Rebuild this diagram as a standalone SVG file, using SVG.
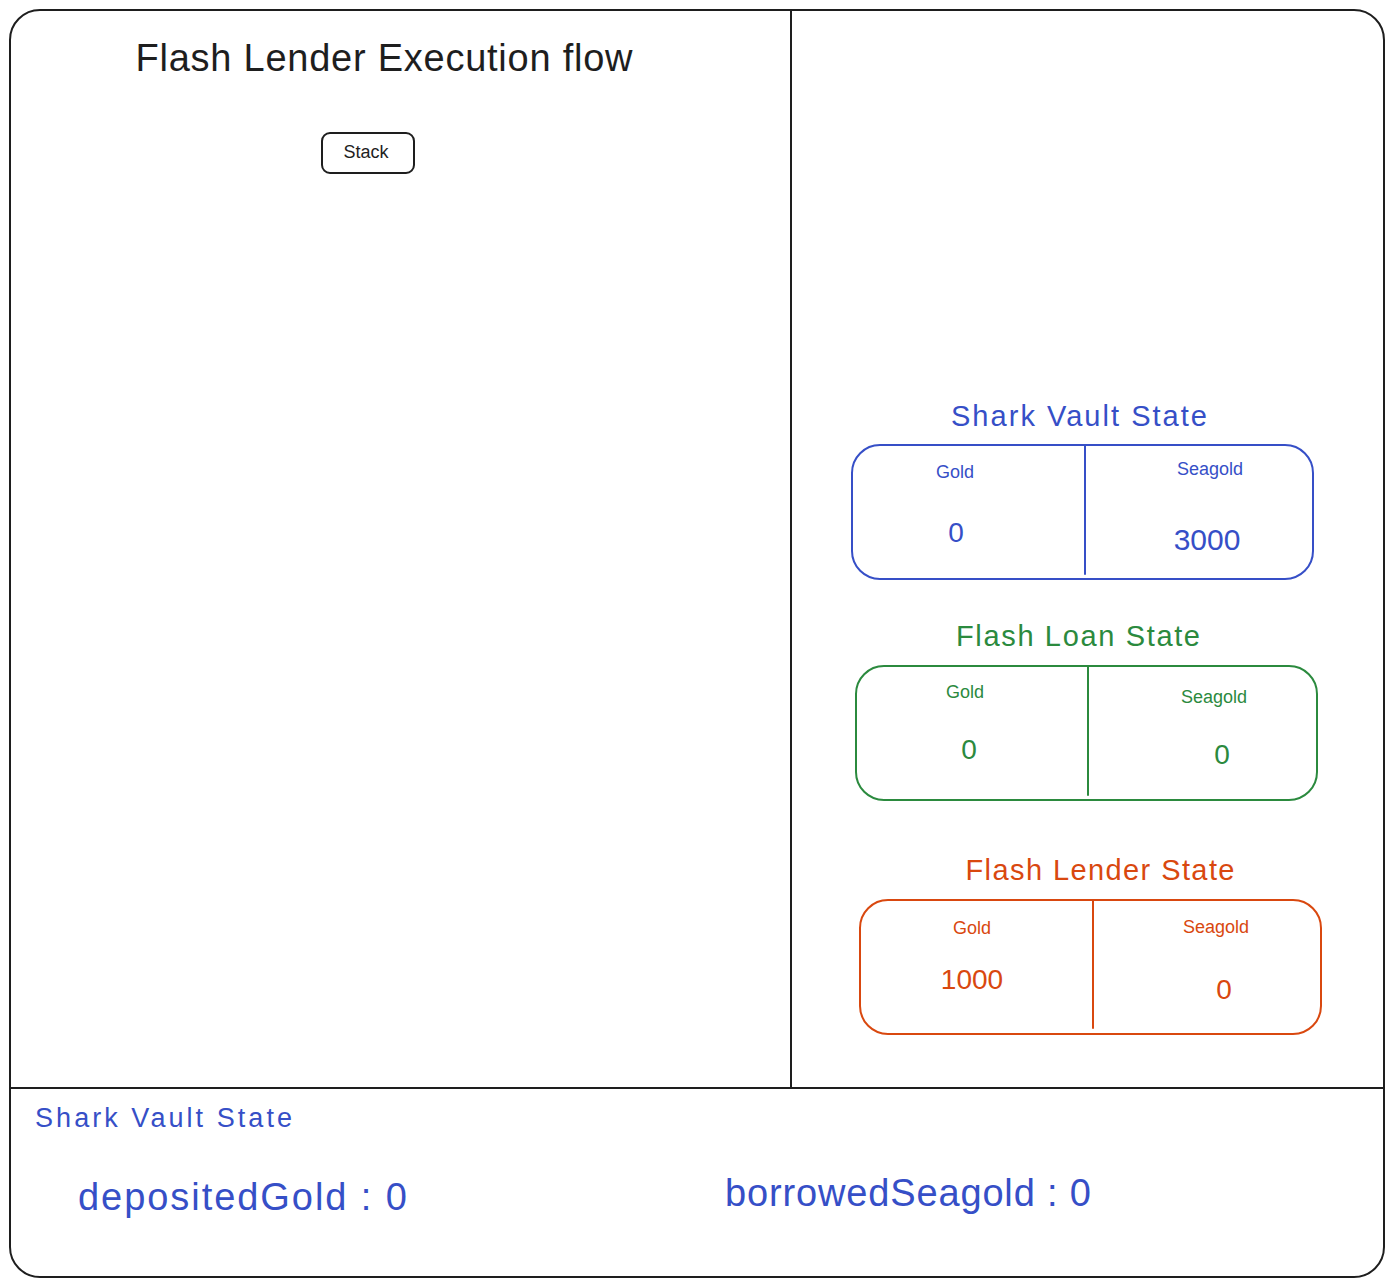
<svg xmlns="http://www.w3.org/2000/svg" width="1394" height="1287" viewBox="0 0 1394 1287">
<style>
text{font-family:"Liberation Sans",Arial,sans-serif;dominant-baseline:central;text-anchor:middle}
.k{fill:#1e1e1e}.b{fill:#364fc7}.g{fill:#2b8a3e}.o{fill:#d9480f}
.ln{fill:none;stroke-width:2;stroke-linecap:round}
.sk{stroke:#1e1e1e}.sb{stroke:#364fc7}.sg{stroke:#2b8a3e}.so{stroke:#d9480f}
</style>
<rect width="1394" height="1287" fill="#fff"/>
<g id="frame">
<rect class="ln sk" x="10" y="10" width="1374" height="1267" rx="30"/>
</g>
<g id="connectors">
<line class="ln sk" x1="791" y1="10" x2="791" y2="1088"/>
<line class="ln sk" x1="10" y1="1088" x2="1384" y2="1088"/>
</g>
<g id="title"><text class="k" x="384" y="58" font-size="38" textLength="497" lengthAdjust="spacing">Flash Lender Execution flow</text></g>
<g id="stack">
<rect class="ln sk" x="322" y="133" width="92" height="40" rx="8"/>
<text class="k" x="366" y="152" font-size="18">Stack</text>
</g>
<g id="shark-vault">
<text class="b" x="1079" y="416" font-size="29" textLength="256" lengthAdjust="spacing">Shark Vault State</text>
<rect class="ln sb" x="852" y="445" width="461" height="134" rx="28"/>
<line class="ln sb" x1="1085" y1="446" x2="1085" y2="574"/>
<text class="b" x="955" y="472" font-size="18">Gold</text>
<text class="b" x="956" y="532" font-size="28">0</text>
<text class="b" x="1210" y="469" font-size="18">Seagold</text>
<text class="b" x="1207" y="539" font-size="30">3000</text>
</g>
<g id="flash-loan">
<text class="g" x="1078" y="636" font-size="29" textLength="244" lengthAdjust="spacing">Flash Loan State</text>
<rect class="ln sg" x="856" y="666" width="461" height="134" rx="28"/>
<line class="ln sg" x1="1088" y1="667" x2="1088" y2="795"/>
<text class="g" x="965" y="692" font-size="18">Gold</text>
<text class="g" x="969" y="749" font-size="28">0</text>
<text class="g" x="1214" y="697" font-size="18">Seagold</text>
<text class="g" x="1222" y="754" font-size="28">0</text>
</g>
<g id="flash-lender">
<text class="o" x="1100" y="870" font-size="29" textLength="269" lengthAdjust="spacing">Flash Lender State</text>
<rect class="ln so" x="860" y="900" width="461" height="134" rx="28"/>
<line class="ln so" x1="1093" y1="901" x2="1093" y2="1028"/>
<text class="o" x="972" y="928" font-size="18">Gold</text>
<text class="o" x="972" y="979" font-size="28">1000</text>
<text class="o" x="1216" y="927" font-size="18">Seagold</text>
<text class="o" x="1224" y="989" font-size="28">0</text>
</g>
<g id="vault-vars">
<text class="b" x="35" y="1118" font-size="27" style="text-anchor:start" textLength="257" lengthAdjust="spacing">Shark Vault State</text>
<text class="b" x="78" y="1197" font-size="38" style="text-anchor:start" textLength="329" lengthAdjust="spacing">depositedGold :  0</text>
<text class="b" x="725" y="1193" font-size="38" style="text-anchor:start" textLength="366" lengthAdjust="spacing">borrowedSeagold :  0</text>
</g>
</svg>
